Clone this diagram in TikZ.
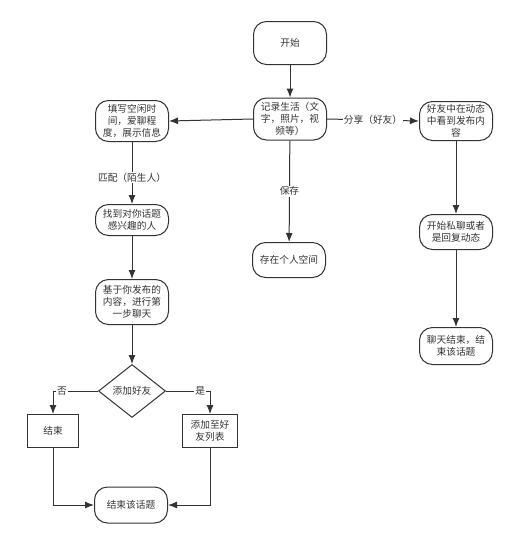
\documentclass[tikz,border=0pt]{standalone}
\usepackage{fontspec}
\setmainfont{Noto Sans CJK SC}
\usetikzlibrary{arrows.meta,shapes.geometric}
\tikzset{
  stepround/.style={draw=black!80,line width=1pt,rounded corners=13pt,
    minimum width=73pt,align=center,inner sep=1pt,font=\fontsize{9.7}{12}\selectfont,text=black!80},
  stepbox/.style={draw=black!80,line width=1pt,minimum width=51pt,minimum height=33pt,
    align=center,inner sep=1pt,font=\fontsize{9.7}{12}\selectfont,text=black!80},
  flow/.style={draw=black!80,line width=1pt,-{Latex[length=9pt,width=7pt]}},
  lbl/.style={fill=white,inner sep=1pt,font=\fontsize{9.7}{12}\selectfont,text=black!80}
}
\begin{document}
\begin{tikzpicture}[x=1pt,y=-1pt]
  \useasboundingbox (0,0) rectangle (507,536);
  % middle column
  \node[stepround,minimum height=43pt] (start) at (290,43) {开始};
  \node[stepround,minimum height=42pt] (rec) at (290,119) {记录生活（文\\字，照片，视\\频等）};
  \node[stepround,minimum height=35pt] (save) at (289,260) {存在个人空间};
  % left column
  \node[stepround,minimum height=41pt] (fill) at (132,121) {填写空闲时\\间，爱聊程\\度，展示信息};
  \node[stepround,minimum height=31pt] (find) at (132,220) {找到对你话题\\感兴趣的人};
  \node[stepround,minimum height=45pt] (base) at (132,302) {基于你发布的\\内容，进行第\\一步聊天};
  \node[diamond,draw=black!80,line width=1pt,minimum width=67pt,minimum height=53pt,
    inner sep=0pt,font=\fontsize{9.7}{12}\selectfont,text=black!80] (dia) at (132,391) {添加好友};
  \node[stepbox] (no) at (53,431) {结束};
  \node[stepbox,minimum width=55pt] (add) at (210,431) {添加至好\\友列表};
  \node[stepround,minimum height=36pt] (end) at (131,505) {结束该话题};
  % right column
  \node[stepround,minimum height=39pt] (friend) at (456,121) {好友中在动态\\中看到发布内\\容};
  \node[stepround,minimum height=35pt] (chat) at (456,232) {开始私聊或者\\是回复动态};
  \node[stepround,minimum height=37pt] (over) at (456,346) {聊天结束，结\\束该话题};
  % connectors
  \draw[flow] (start) -- (rec);
  \draw[flow] (rec.west) -- (fill.east);
  \draw[flow] (rec.east) -- node[lbl] {分享（好友）} (friend.west);
  \draw[flow] (rec) -- node[lbl] {保存} (save);
  \draw[flow] (fill) -- node[lbl,pos=0.57] {匹配（陌生人）} (find);
  \draw[flow] (find) -- (base);
  \draw[flow] (base) -- (dia);
  \draw[flow] (dia.west) -| node[lbl,pos=0.4] {否} (no.north);
  \draw[flow] (dia.east) -| node[lbl,pos=0.39] {是} (add.north);
  \draw[flow] (no.south) |- (end.west);
  \draw[flow] (add.south) |- (end.east);
  \draw[flow] (friend) -- (chat);
  \draw[flow] (chat) -- (over);
\end{tikzpicture}
\end{document}
